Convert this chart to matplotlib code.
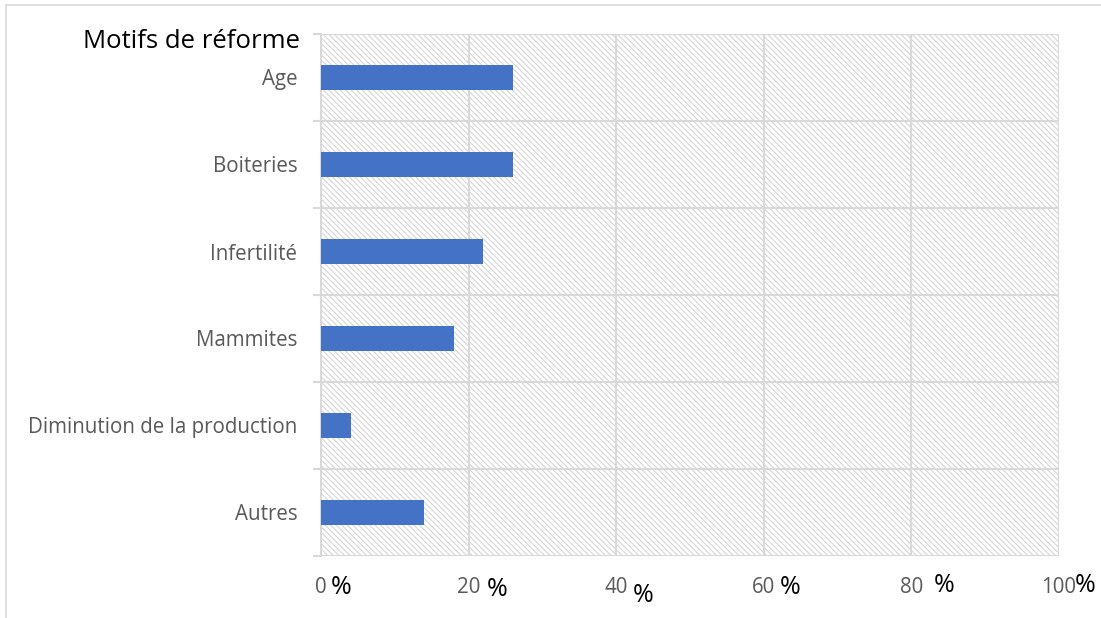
import numpy as np
import matplotlib
matplotlib.use('Agg')
import matplotlib.pyplot as plt
from matplotlib.patches import Rectangle

#### DATA ####
categories = ['Age', 'Boiteries', 'Infertilité', 'Mammites',
              'Diminution de la production', 'Autres']
values = [26, 26, 22, 18, 4, 14]
xticks = [0, 20, 40, 60, 80, 100]
xtick_labels = ['0', '20', '40', '60', '80', '100']
# "%" signs sit a bit apart from the numbers (offset in data units, y offset in px)
pct_dx = [2.7, 3.9, 3.7, 3.5, 4.5, 3.6]
pct_dy = [0, 2, 7, 0, -2, -2]

plt.rcParams['font.family'] = ['Open Sans', 'DejaVu Sans']
grey = '#595959'
grid = '#d9d9d9'

fig = plt.figure(figsize=(11.01, 6.18), dpi=100)
# outer chart border (left and top visible)
fig.add_artist(Rectangle((6 / 1101, -0.1), 1.2, 1.1 - 5 / 618,
                         transform=fig.transFigure, fill=False,
                         edgecolor=grid, lw=1.2))

ax = fig.add_axes([321 / 1101, 1 - 556 / 618, 738 / 1101, 522 / 618])

# hatched plot area
ax.add_patch(Rectangle((0, 0), 1, 1, transform=ax.transAxes, facecolor='white',
                       edgecolor='#d6d6d6', lw=0, hatch='\\' * 6, zorder=0,
                       hatch_linewidth=0.8))

y = np.arange(len(categories))
ax.barh(y, values, height=0.29, color='#4472c4', zorder=3)

ax.set_xlim(0, 100)
ax.set_ylim(len(categories) - 0.5, -0.5)

# grid lines
for xv in xticks[1:]:
    ax.axvline(xv, color=grid, lw=1.5, zorder=1)
ax.set_yticks(y)
ax.set_yticklabels(categories, color=grey, fontsize=14.8)
ax.set_yticks(np.arange(len(categories) + 1) - 0.5, minor=True)
ax.tick_params(axis='y', which='major', length=0, pad=17)
ax.tick_params(axis='y', which='minor', length=6, color=grid, width=1.5)
ax.grid(axis='y', which='minor', color=grid, lw=1.5, zorder=1)

ax.set_xticks(xticks)
ax.set_xticklabels(xtick_labels, color=grey, fontsize=14.8)
ax.tick_params(axis='x', length=0, pad=15)

for s in ['top', 'right', 'bottom']:
    ax.spines[s].set_visible(False)
ax.spines['left'].set_color(grid)
ax.spines['left'].set_linewidth(1.5)

# the separate "%" signs
for xv, dx, dy in zip(xticks, pct_dx, pct_dy):
    ax.annotate('%', xy=(xv + dx, 0), xycoords=('data', 'axes fraction'),
                xytext=(0, -32 - dy), textcoords='offset pixels',
                ha='center', va='center', fontsize=18, color='black')

fig.text(83 / 1101, 1 - 42 / 618, 'Motifs de réforme', fontsize=18.5,
         color='black', va='center', ha='left')

plt.savefig('out.png', dpi=100)
